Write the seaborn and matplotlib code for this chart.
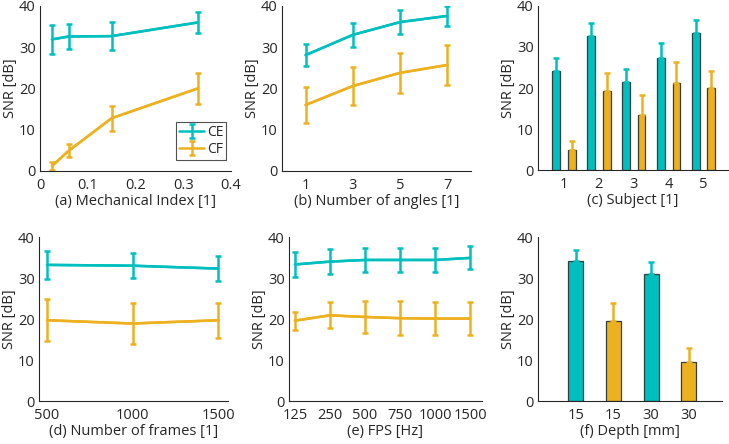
import numpy as np
import pandas as pd
import matplotlib
matplotlib.use("Agg")
from matplotlib import pyplot as plt
import seaborn as sns

# (a) mechanical index
mi_x = [0.025, 0.06, 0.15, 0.33]
mi_ce = [31.9, 32.6, 32.7, 36.0]
mi_ce_err = [3.5, 3.0, 3.3, 2.6]
mi_cf = [1.2, 4.9, 12.8, 20.0]
mi_cf_err = [0.9, 1.6, 3.0, 3.8]

# (b) number of angles
ang_x = [1, 3, 5, 7]
ang_ce = [28.1, 33.0, 36.1, 37.6]
ang_ce_err = [2.7, 2.9, 3.0, 2.5]
ang_cf = [16.0, 20.6, 23.8, 25.7]
ang_cf_err = [4.3, 4.6, 4.9, 4.9]

# (c) subject
subj = ["1", "2", "3", "4", "5"]
subj_ce = [24.2, 32.7, 21.5, 27.2, 33.3]
subj_ce_err = [3.2, 3.2, 3.1, 3.7, 3.3]
subj_cf = [5.0, 19.3, 13.4, 21.3, 19.9]
subj_cf_err = [2.0, 4.4, 4.8, 5.1, 4.2]

# (d) number of frames
fr_x = [500, 1000, 1500]
fr_ce = [33.2, 33.0, 32.3]
fr_ce_err = [3.4, 3.1, 3.0]
fr_cf = [19.7, 18.9, 19.7]
fr_cf_err = [5.1, 5.0, 4.3]

# (e) fps
fps_labels = ["125", "250", "500", "750", "1000", "1500"]
fps_ce = [33.3, 34.0, 34.4, 34.4, 34.4, 34.9]
fps_ce_err = [3.0, 3.1, 2.9, 2.9, 2.9, 2.8]
fps_cf = [19.6, 20.9, 20.5, 20.2, 20.1, 20.1]
fps_cf_err = [2.2, 3.2, 3.8, 4.1, 4.0, 4.0]

# (f) depth
depth_labels = ["15", "15", "30", "30"]
depth_group = ["CE", "CF", "CE", "CF"]
depth_val = [34.1, 19.5, 30.9, 9.4]
depth_err = [2.8, 4.5, 3.0, 3.6]

CE_COLOR = "#00bfbf"
CF_COLOR = "#edb120"
EDGE = "#2f3f3f"

sns.set_style("white")
plt.rcParams["font.family"] = ["Open Sans", "DejaVu Sans"]
plt.rcParams["font.size"] = 10.5
plt.rcParams["axes.labelsize"] = 10.5
plt.rcParams["xtick.labelsize"] = 10.5
plt.rcParams["ytick.labelsize"] = 10.5
plt.rcParams["axes.linewidth"] = 0.8
plt.rcParams["axes.edgecolor"] = "#262626"
plt.rcParams["text.color"] = "#262626"
plt.rcParams["axes.labelcolor"] = "#262626"
plt.rcParams["xtick.direction"] = "in"
plt.rcParams["ytick.direction"] = "in"
plt.rcParams["xtick.major.size"] = 3
plt.rcParams["ytick.major.size"] = 3
plt.rcParams["xtick.major.width"] = 0.6
plt.rcParams["ytick.major.width"] = 0.6
plt.rcParams["xtick.color"] = "#262626"
plt.rcParams["ytick.color"] = "#262626"

fig = plt.figure(figsize=(7.29, 4.44), dpi=100)

pos = {
    "a": [0.0549, 0.6149, 0.2620, 0.3716],
    "b": [0.3868, 0.6149, 0.2593, 0.3716],
    "c": [0.7380, 0.6171, 0.2606, 0.3694],
    "d": [0.0535, 0.0968, 0.2593, 0.3694],
    "e": [0.3964, 0.0968, 0.2647, 0.3694],
    "f": [0.7380, 0.0968, 0.2524, 0.3694],
}


def style_axes(ax, xlabel):
    sns.despine(ax=ax)
    ax.set_ylim(0, 40)
    ax.set_yticks([0, 10, 20, 30, 40])
    ax.set_ylabel("SNR [dB]", labelpad=1)
    ax.set_xlabel(xlabel, labelpad=1)
    ax.tick_params(axis="y", pad=3)
    ax.tick_params(axis="x", pad=5)


def line_panel(ax, x, ce, ce_err, cf, cf_err):
    df = pd.DataFrame({"x": list(x) * 2, "y": list(ce) + list(cf),
                       "err": list(ce_err) + list(cf_err),
                       "method": ["CE"] * len(x) + ["CF"] * len(x)})
    sns.lineplot(data=df, x="x", y="y", hue="method", palette=[CE_COLOR, CF_COLOR],
                 linewidth=1.8, ax=ax, legend=False)
    for name, col in [("CE", CE_COLOR), ("CF", CF_COLOR)]:
        sub = df[df.method == name]
        ax.errorbar(sub.x, sub.y, yerr=sub.err, fmt="-", color=col, ecolor=col,
                    linewidth=1.8, elinewidth=1.8, capsize=2.5, capthick=1.8, label=name)


# (a)
ax = fig.add_axes(pos["a"])
line_panel(ax, mi_x, mi_ce, mi_ce_err, mi_cf, mi_cf_err)
ax.set_xlim(0, 0.4)
ax.set_xticks([0, 0.1, 0.2, 0.3, 0.4])
ax.set_xticklabels(["0", "0.1", "0.2", "0.3", "0.4"])
style_axes(ax, "(a) Mechanical Index [1]")
leg = ax.legend(loc="lower right", bbox_to_anchor=(0.99, 0.05), frameon=True, fancybox=False,
                edgecolor="#262626", handlelength=1.8, handletextpad=0.2,
                borderpad=0.2, labelspacing=0.15, fontsize=10, borderaxespad=0.2)
leg.get_frame().set_linewidth(0.8)

# (b)
ax = fig.add_axes(pos["b"])
line_panel(ax, ang_x, ang_ce, ang_ce_err, ang_cf, ang_cf_err)
ax.set_xlim(0, 8)
ax.set_xticks(ang_x)
style_axes(ax, "(b) Number of angles [1]")

# (c)
ax = fig.add_axes(pos["c"])
dfc = pd.DataFrame({"subject": subj * 2, "snr": subj_ce + subj_cf,
                    "method": ["CE"] * 5 + ["CF"] * 5})
sns.barplot(data=dfc, x="subject", y="snr", hue="method", palette=[CE_COLOR, CF_COLOR],
            width=0.9, gap=0.5, edgecolor=EDGE, linewidth=0.9, errorbar=None,
            saturation=1, legend=False, ax=ax)
xs = np.arange(len(subj))
ax.errorbar(xs - 0.225, subj_ce, yerr=[np.zeros(5), subj_ce_err], fmt="none",
            ecolor=CE_COLOR, elinewidth=1.8, capsize=2, capthick=1.8)
ax.errorbar(xs + 0.225, subj_cf, yerr=[np.zeros(5), subj_cf_err], fmt="none",
            ecolor=CF_COLOR, elinewidth=1.8, capsize=2, capthick=1.8)
ax.set_xlim(-0.74, 4.7)
style_axes(ax, "(c) Subject [1]")

# (d)
ax = fig.add_axes(pos["d"])
line_panel(ax, fr_x, fr_ce, fr_ce_err, fr_cf, fr_cf_err)
ax.set_xlim(453, 1558)
ax.set_xticks(fr_x)
style_axes(ax, "(d) Number of frames [1]")

# (e)
ax = fig.add_axes(pos["e"])
fps_idx = list(range(len(fps_labels)))
line_panel(ax, fps_idx, fps_ce, fps_ce_err, fps_cf, fps_cf_err)
ax.set_xlim(-0.17, 5.34)
ax.set_xticks(fps_idx)
ax.set_xticklabels(fps_labels)
style_axes(ax, "(e) FPS [Hz]")

# (f)
ax = fig.add_axes(pos["f"])
dff = pd.DataFrame({"bar": [f"{g} {d}" for g, d in zip(depth_group, depth_labels)],
                    "snr": depth_val, "method": depth_group})
sns.barplot(data=dff, x="bar", y="snr", hue="method", palette=[CE_COLOR, CF_COLOR],
            dodge=False, width=0.4, edgecolor=EDGE, linewidth=0.9, errorbar=None,
            saturation=1, legend=False, ax=ax)
fx = np.arange(len(depth_val))
for i in fx:
    col = CE_COLOR if depth_group[i] == "CE" else CF_COLOR
    ax.errorbar(i, depth_val[i], yerr=[[0], [depth_err[i]]], fmt="none",
                ecolor=col, elinewidth=1.8, capsize=2, capthick=1.8)
ax.set_xlim(-1.0, 3.88)
ax.set_xticks(fx)
ax.set_xticklabels(depth_labels)
style_axes(ax, "(f) Depth [mm]")

fig.savefig("out.png", dpi=100)
